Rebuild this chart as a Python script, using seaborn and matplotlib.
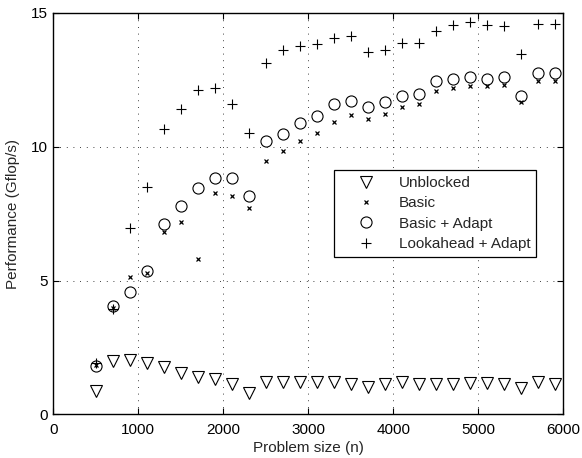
import matplotlib
matplotlib.use("Agg")
import matplotlib.pyplot as plt
import seaborn as sns
import pandas as pd

problem_size = [500, 700, 900, 1100, 1300, 1500, 1700, 1900, 2100, 2300,
                2500, 2700, 2900, 3100, 3300, 3500, 3700, 3900, 4100, 4300,
                4500, 4700, 4900, 5100, 5300, 5500, 5700, 5900]

unblocked = [0.88, 2.00, 2.02, 1.93, 1.76, 1.54, 1.40, 1.32, 1.12, 0.81,
             1.20, 1.20, 1.20, 1.20, 1.20, 1.14, 1.03, 1.14, 1.22, 1.12,
             1.12, 1.12, 1.18, 1.18, 1.12, 1.00, 1.20, 1.12]

basic = [1.85, 3.98, 5.12, 5.29, 6.80, 7.18, 5.79, 8.26, 8.15, 7.72,
         9.47, 9.86, 10.21, 10.53, 10.93, 11.20, 11.03, 11.24, 11.47, 11.59,
         12.09, 12.20, 12.26, 12.26, 12.30, 11.68, 12.46, 12.46]

basic_adapt = [1.80, 4.06, 4.56, 5.35, 7.10, 7.79, 8.47, 8.82, 8.82, 8.15,
               10.22, 10.48, 10.89, 11.14, 11.59, 11.71, 11.47, 11.68, 11.89, 11.99,
               12.45, 12.55, 12.59, 12.55, 12.59, 11.90, 12.74, 12.74]

lookahead_adapt = [1.92, 3.92, 6.96, 8.50, 10.66, 11.40, 12.14, 12.19, 11.58, 10.52,
                   13.13, 13.63, 13.78, 13.84, 14.08, 14.13, 13.55, 13.61, 13.88, 13.86,
                   14.33, 14.57, 14.67, 14.57, 14.53, 13.46, 14.58, 14.58]

series_names = ["Unblocked", "Basic", "Basic + Adapt", "Lookahead + Adapt"]
series_values = [unblocked, basic, basic_adapt, lookahead_adapt]

x_ticks = [0, 1000, 2000, 3000, 4000, 5000, 6000]
y_ticks = [0, 5, 10, 15]

sns.set_theme(style="white")
plt.rcParams['font.family'] = ['Liberation Sans', 'DejaVu Sans']

fig = plt.figure(figsize=(5.82, 4.58), dpi=100)
ax = fig.add_axes([53.3 / 582, 1 - 414.3 / 458, 510 / 582, 401.3 / 458])

styles = {
    "Unblocked": dict(marker="v", ms=8.5, mfc="none", mec="black", mew=0.8),
    "Basic": dict(marker="x", ms=3.5, mfc="none", mec="black", mew=0.9),
    "Basic + Adapt": dict(marker="o", ms=8, mfc="none", mec="black", mew=0.8),
    "Lookahead + Adapt": dict(marker="+", ms=7, mfc="none", mec="black", mew=0.8),
}

for name, vals in zip(series_names, series_values):
    df = pd.DataFrame({"n": problem_size, "perf": vals})
    sns.lineplot(data=df, x="n", y="perf", ax=ax, estimator=None, linestyle="",
                 color="black", label=name, **styles[name])

ax.set_xlim(0, 6000)
ax.set_ylim(0, 15)
ax.set_xticks(x_ticks)
ax.set_yticks(y_ticks)
ax.grid(True, color="black", linestyle=(0, (1, 7)), linewidth=0.6)
for sp in ax.spines.values():
    sp.set_visible(True)
    sp.set_color("black")
    sp.set_linewidth(1.0)
ax.tick_params(axis="both", direction="in", length=4, width=0.8, colors="black",
               labelsize=11, top=True, right=True, bottom=True, left=True)
ax.tick_params(axis="x", pad=6)
ax.tick_params(axis="y", pad=4)
ax.set_xlabel("Problem size (n)", fontsize=11, labelpad=3)
ax.set_ylabel("Performance (Gflop/s)", fontsize=11, labelpad=8)

leg = ax.legend(loc="center", bbox_to_anchor=(0.749, 0.5004), fontsize=11,
                frameon=True, fancybox=False, edgecolor="black", framealpha=1,
                borderpad=0.4, handletextpad=0.4, labelspacing=0.42, handlelength=3.4)
leg.get_frame().set_linewidth(0.9)

fig.savefig("out.png", dpi=100)
